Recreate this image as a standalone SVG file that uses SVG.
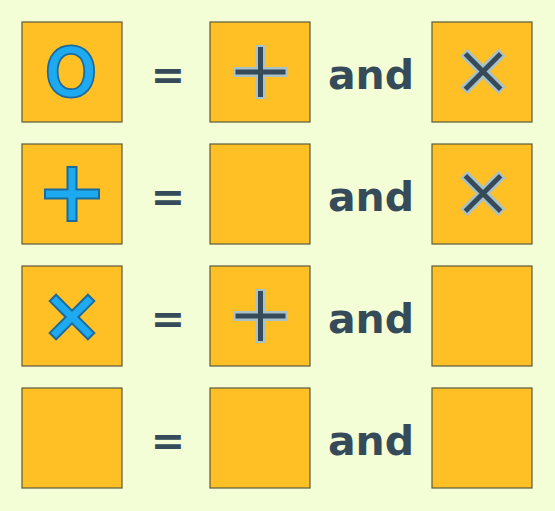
<svg xmlns="http://www.w3.org/2000/svg" width="555" height="511" viewBox="0 0 555 511">
<style>
.box{fill:#fec024;stroke:#5b5a40;stroke-width:1.2}
.op{font-family:"DejaVu Sans",sans-serif;font-weight:bold;font-size:41px;fill:#364b59;text-anchor:middle}
.big{font-family:"DejaVu Sans",sans-serif;font-size:64px;text-anchor:middle}
.bo{fill:#1a6a9e;stroke:#1a6a9e;stroke-width:5;stroke-linejoin:round}
.bi{fill:#1eaaf0;stroke:#1eaaf0;stroke-width:1.5;stroke-linejoin:round}
.dk1{stroke:#a9c1c9;stroke-width:10;fill:none}
.dk2{stroke:#364b59;stroke-width:5;fill:none}
.bl{fill:#1eaaf0;stroke:#1a6a9e;stroke-width:2}
</style>
<defs>
<g id="dplus"><path class="dk1" d="M-27 0H27M0-27V27"/><path class="dk2" d="M-25 0H25M0-25V25"/></g>
<path id="bplus" class="bl" d="M-4.5-27H4.5V-4.5H27V4.5H4.5V27H-4.5V4.5H-27V-4.5H-4.5Z"/>
</defs>
<rect width="555" height="511" fill="#f3fdd6"/>
<g id="r1c1"><rect class="box" x="22" y="22" width="100" height="100"/><text class="big bo" x="71" y="95">O</text><text class="big bi" x="71" y="95">O</text></g>
<g id="r1eq"><text class="op" x="168" y="89">=</text></g>
<g id="r1c2"><rect class="box" x="210" y="22" width="100" height="100"/><use href="#dplus" x="260.5" y="72"/></g>
<g id="r1and"><text class="op" x="371" y="89">and</text></g>
<g id="r1c3"><rect class="box" x="432" y="22" width="100" height="100"/><use href="#dplus" transform="translate(483 71.5) rotate(45)"/></g>

<g id="r2c1"><rect class="box" x="22" y="144" width="100" height="100"/><use href="#bplus" x="72" y="194"/></g>
<g id="r2eq"><text class="op" x="168" y="211">=</text></g>
<g id="r2c2"><rect class="box" x="210" y="144" width="100" height="100"/></g>
<g id="r2and"><text class="op" x="371" y="211">and</text></g>
<g id="r2c3"><rect class="box" x="432" y="144" width="100" height="100"/><use href="#dplus" transform="translate(483 193.5) rotate(45)"/></g>

<g id="r3c1"><rect class="box" x="22" y="266" width="100" height="100"/><use href="#bplus" transform="translate(72 317) rotate(45)"/></g>
<g id="r3eq"><text class="op" x="168" y="333">=</text></g>
<g id="r3c2"><rect class="box" x="210" y="266" width="100" height="100"/><use href="#dplus" x="260.5" y="316"/></g>
<g id="r3and"><text class="op" x="371" y="333">and</text></g>
<g id="r3c3"><rect class="box" x="432" y="266" width="100" height="100"/></g>

<g id="r4c1"><rect class="box" x="22" y="388" width="100" height="100"/></g>
<g id="r4eq"><text class="op" x="168" y="455">=</text></g>
<g id="r4c2"><rect class="box" x="210" y="388" width="100" height="100"/></g>
<g id="r4and"><text class="op" x="371" y="455">and</text></g>
<g id="r4c3"><rect class="box" x="432" y="388" width="100" height="100"/></g>
</svg>
